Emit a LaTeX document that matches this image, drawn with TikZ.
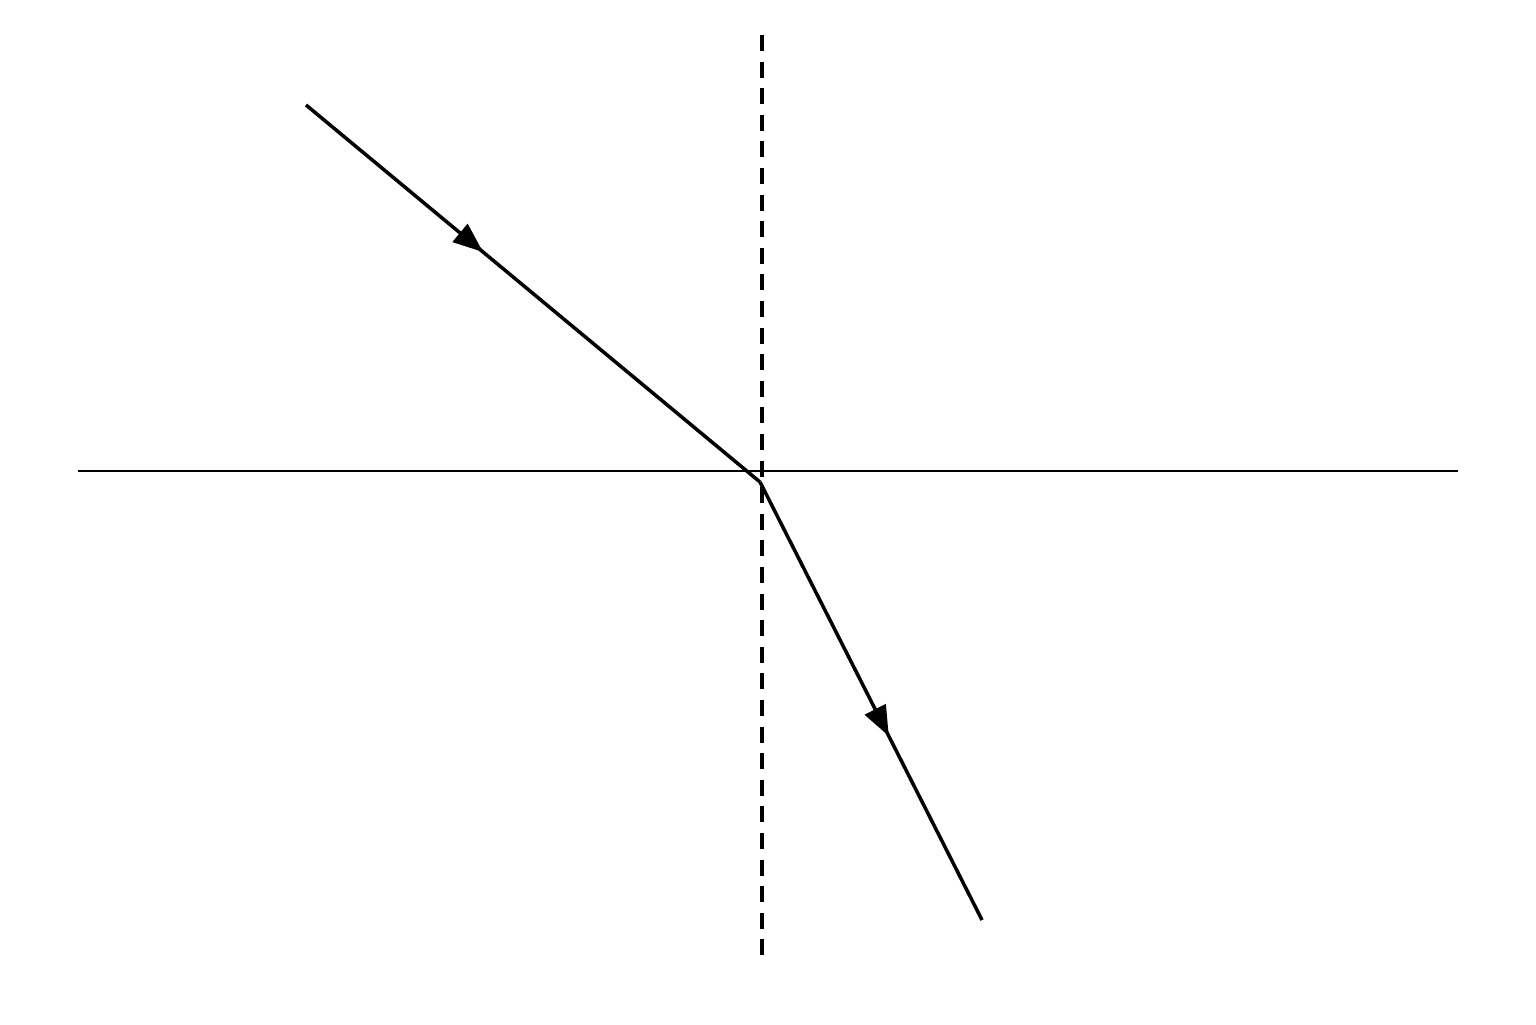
\documentclass[tikz,border=0pt]{standalone}
\usepackage{tikz}
\usetikzlibrary{positioning,calc,decorations.markings,arrows.meta}

\begin{document}
\begin{tikzpicture}[
        ray/.style={line width=1pt},
        surface/.style={line width=0.8pt},
        normal/.style={line width=1pt, dash pattern=on 1.6mm off 1.06mm},
        midarrow/.style={postaction={decorate}, decoration={markings,
            mark=at position #1 with {\arrow{Triangle[length=3mm,width=2.3mm]}}}}
    ]
        \useasboundingbox (0,0) rectangle (15.36,10.24);
        % surface and normal
        \node [coordinate] (left) at (0.78,5.53) {};
        \node [coordinate] (right) at (14.58,5.53) {};
        \node [coordinate] (top) at (7.62,9.89) {};
        \node [coordinate] (bottom) at (7.62,0.68) {};
        % ray points
        \node [coordinate] (src) at (3.06,9.19) {};
        \node [coordinate] (hit) at (7.60,5.42) {};
        \node [coordinate] (out) at (9.82,1.04) {};

        \draw [surface] (left) -- (right);
        \draw [normal] (top) -- (bottom);
        \draw [ray, midarrow=0.39] (src) -- (hit);
        \draw [ray, midarrow=0.58] (hit) -- (out);
    \end{tikzpicture}
\end{document}
